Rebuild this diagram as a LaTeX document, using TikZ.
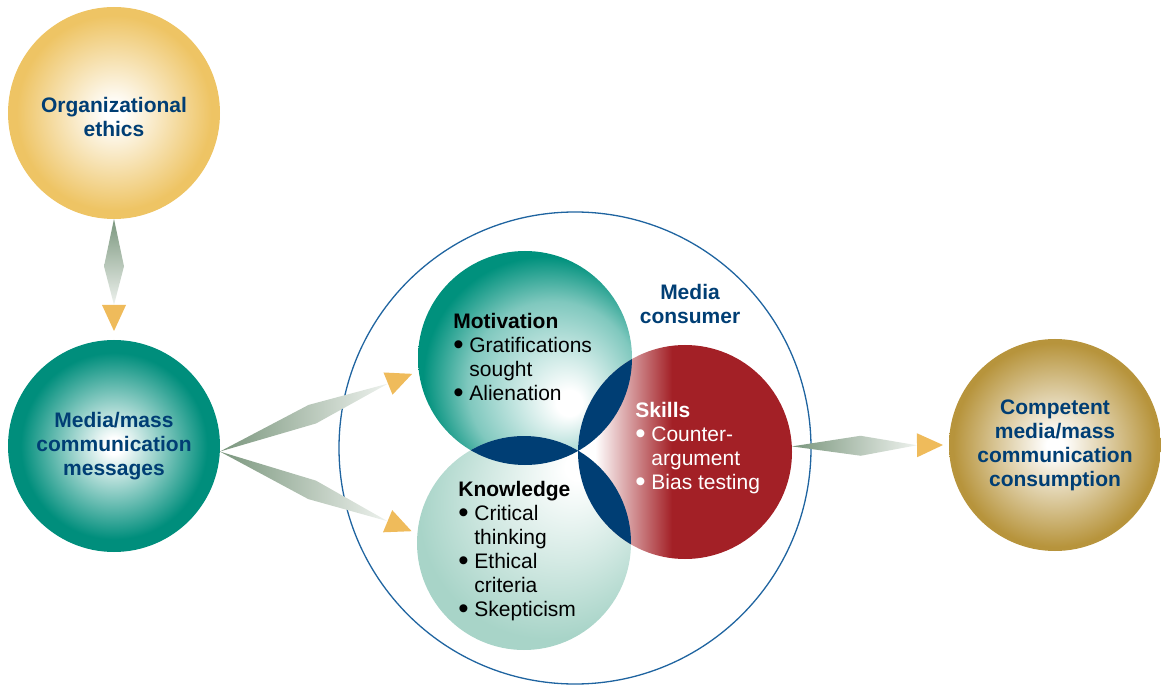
\documentclass[tikz,border=0pt]{standalone}
\usepackage{fontspec}
\setmainfont{Liberation Sans}
\usetikzlibrary{calc}

\definecolor{textnavy}{RGB}{0,62,116}
\definecolor{ethicsgold}{RGB}{238,196,100}
\definecolor{msgteal}{RGB}{0,142,124}
\definecolor{motivteal}{RGB}{0,145,125}
\definecolor{knowteal}{RGB}{168,212,200}
\definecolor{skillred}{RGB}{163,32,38}
\definecolor{bronze}{RGB}{183,148,60}
\definecolor{outlineblue}{RGB}{31,100,160}
\definecolor{spindlegreen}{RGB}{122,150,125}
\definecolor{spindlelight}{RGB}{238,242,238}
\definecolor{headgold}{RGB}{239,187,91}

\pgfdeclareradialshading{goldshade}{\pgfpoint{0bp}{0bp}}{color(0bp)=(white); color(2bp)=(white); color(23bp)=(ethicsgold); color(50bp)=(ethicsgold)}
\pgfdeclareradialshading{tealshade}{\pgfpoint{0bp}{0bp}}{color(0bp)=(white); color(2bp)=(white); color(22bp)=(msgteal); color(50bp)=(msgteal)}
\pgfdeclareradialshading{bronzeshade}{\pgfpoint{0bp}{0bp}}{color(0bp)=(white); color(2bp)=(white); color(24bp)=(bronze); color(50bp)=(bronze)}
\pgfdeclareradialshading{motivshade}{\pgfpoint{11bp}{-11.2bp}}{color(0bp)=(white); color(3bp)=(white); color(20bp)=(motivteal!50!white); color(28.5bp)=(motivteal); color(50bp)=(motivteal)}
\pgfdeclareradialshading{knowshade}{\pgfpoint{13.5bp}{18.9bp}}{color(0bp)=(white); color(3bp)=(white); color(17bp)=(knowteal!50!white); color(30bp)=(knowteal); color(50bp)=(knowteal)}
\pgfdeclarehorizontalshading{skillshade}{100bp}{color(0bp)=(white); color(29bp)=(white); color(47bp)=(skillred); color(100bp)=(skillred)}

\newcommand{\diagfont}{\fontsize{10.5}{12}\selectfont}
\newcommand{\bul}{\makebox[8pt][l]{\raisebox{-0.15ex}{\scalebox{1.4}{\textbullet}}}}
\newcommand{\ind}{\makebox[8pt]{}}

% spindle connector: #1 source, #2 tip, #3 shading
\newcommand{\spindle}[3]{%
  \coordinate (spbase) at ($(#2)!13pt!(#1)$);
  \shade[#3] (#1) -- ($(#1)!0.55!(spbase)!5pt!90:(spbase)$) -- (spbase)
    -- ($(#1)!0.55!(spbase)!5pt!-90:(spbase)$) -- cycle;
  \fill[headgold] (#2) -- ($(spbase)!6pt!90:(#2)$) -- ($(spbase)!6pt!-90:(#2)$) -- cycle;
}

\begin{document}
\begin{tikzpicture}[
    x=0.5pt, y=0.5pt,
    ball/.style={circle, inner sep=0pt, outer sep=0pt, minimum size=106pt, align=center,
      font=\diagfont\bfseries, text=textnavy},
    venn/.style={circle, inner sep=0pt, outer sep=0pt, minimum size=107pt},
    itemtext/.style={anchor=north west, inner sep=0pt, align=left, font=\diagfont},
    title/.style={anchor=north, inner sep=0pt, align=center, font=\diagfont\bfseries, text=textnavy},
    across/.style={left color=spindlegreen, right color=spindlelight},
    down/.style={top color=spindlegreen, bottom color=spindlelight}
]
\useasboundingbox (0,0) rectangle (1161,686);

% Consommateur (contour)
\node[circle, draw=outlineblue, line width=0.65pt, inner sep=0pt, outer sep=0pt,
  minimum size=236pt] (consumer) at (575,238) {};

% Cercles extérieurs
\node[ball, shading=goldshade] (ethics) at (114,573) {\rule{0pt}{12pt}Organizational\\ethics};
\node[ball, shading=tealshade] (messages) at (114,240) {Media/mass\\communication\\messages};
\node[ball, shading=bronzeshade] (competent) at (1055,241) {Competent\\media/mass\\communication\\consumption};

% Trois cercles
\node[venn, shading=motivshade] (motivation) at (525,328) {};
\node[venn, shading=knowshade] (knowledge) at (524,143) {};
\node[venn, shading=skillshade] (skills) at (685,234) {};

% Intersections
\begin{scope}
  \clip (motivation.center) circle (53.5pt);
  \fill[textnavy] (knowledge.center) circle (53.5pt) (skills.center) circle (53.5pt);
\end{scope}
\begin{scope}
  \clip (knowledge.center) circle (53.5pt);
  \fill[textnavy] (skills.center) circle (53.5pt);
\end{scope}

% Textes
\node[title] (consumertext) at (690,402) {Media\\consumer};
\node[itemtext] (motivtext) at (453,373)
  {\textbf{Motivation}\\\bul Gratifications\\\ind sought\\\bul Alienation};
\node[itemtext] (knowtext) at (458,205)
  {\textbf{Knowledge}\\\bul Critical\\\ind thinking\\\bul Ethical\\\ind criteria\\\bul Skepticism};
\node[itemtext, text=white] (skilltext) at (635,284)
  {\textbf{Skills}\\\bul Counter-\\\ind argument\\\bul Bias testing};

% Flèches
\coordinate (fork) at (messages.-3);
\coordinate (tipdown) at ([yshift=4.5pt]messages.north);
\coordinate (tipmotiv) at ($(motivation.188)!-3.5pt!(motivation.center)$);
\coordinate (tipknow) at ($(knowledge.174)!-3pt!(knowledge.center)$);
\coordinate (tipcomp) at ($(competent.west)!-3pt!(competent.center)$);

\spindle{ethics.south}{tipdown}{down}
\spindle{fork}{tipmotiv}{across}
\spindle{fork}{tipknow}{across}
\spindle{skills.3}{tipcomp}{across}

\end{tikzpicture}
\end{document}
